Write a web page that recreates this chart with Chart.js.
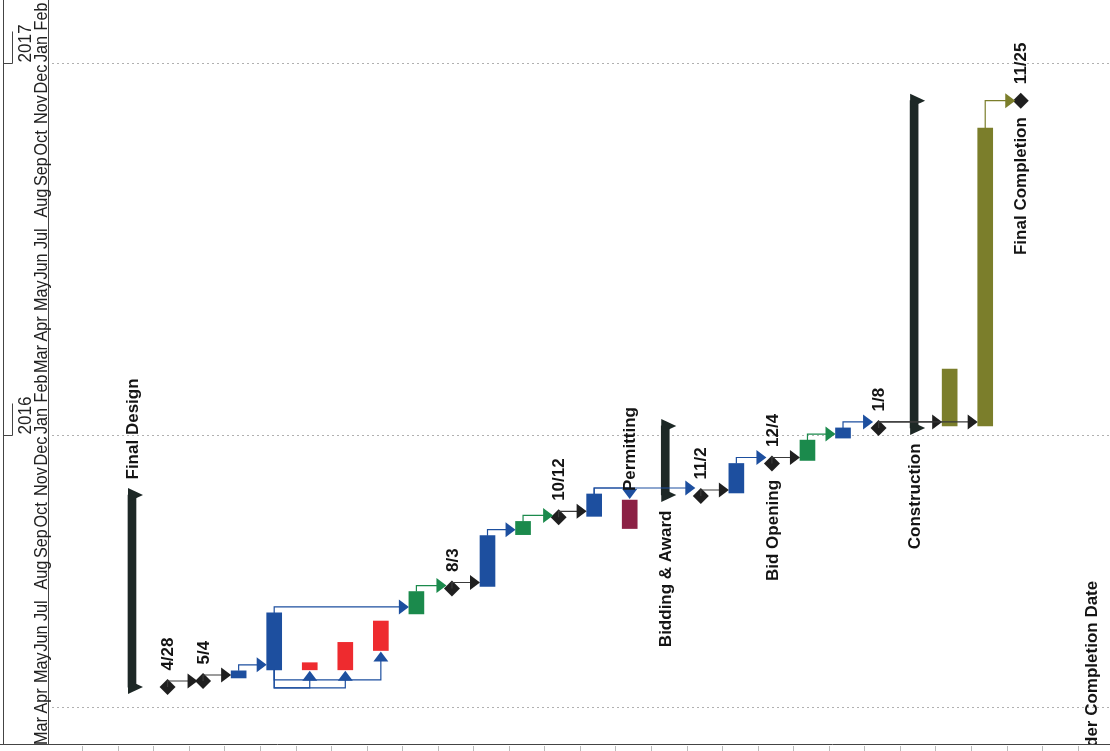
<!DOCTYPE html>
<html>
<head>
<meta charset="utf-8">
<script src="https://cdn.jsdelivr.net/npm/chart.js@4"></script>
<style>
  html, body { margin: 0; background: #fff; }
  canvas { display: block; }
</style>
</head>
<body>
<canvas id="gantt" width="1110" height="751"></canvas>
<script>
// one entry per row of the (rotated) gantt, left to right
const taskType = ['summary', 'milestone', 'milestone', 'blue', 'blue', 'red', 'red', 'red', 'green', 'milestone',
  'blue', 'green', 'milestone', 'blue', 'maroon', 'summary', 'milestone', 'blue', 'milestone', 'green',
  'blue', 'milestone', 'summary', 'olive', 'olive', 'milestone'];
const taskStart = ['2015-04-28', '2015-04-28', '2015-05-04', '2015-05-07', '2015-05-15', '2015-05-15', '2015-05-15', '2015-06-03', '2015-07-09', '2015-08-03',
  '2015-08-05', '2015-09-25', '2015-10-12', '2015-10-13', '2015-10-01', '2015-11-03', '2015-11-02', '2015-11-05', '2015-12-04', '2015-12-07',
  '2015-12-29', '2016-01-08', '2016-01-08', '2016-01-10', '2016-01-10', '2016-11-25'];
const taskEnd = ['2015-11-03', '2015-04-28', '2015-05-04', '2015-05-14', '2015-07-10', '2015-05-22', '2015-06-11', '2015-07-02', '2015-07-31', '2015-08-03',
  '2015-09-24', '2015-10-08', '2015-10-12', '2015-11-04', '2015-10-29', '2016-01-10', '2015-11-02', '2015-12-04', '2015-12-04', '2015-12-27',
  '2016-01-08', '2016-01-08', '2016-11-25', '2016-03-06', '2016-10-29', '2016-11-25'];
const labelAbove = ['Final Design', '4/28', '5/4', '', '', '', '', '', '', '8/3',
  '', '', '10/12', '', 'Permitting', '', '11/2', '', '12/4', '',
  '', '1/8', '', '', '', '11/25'];
const labelBelow = ['', '', '', '', '', '', '', '', '', '',
  '', '', '', '', '', 'Bidding & Award', '', '', 'Bid Opening', '',
  '', '', 'Construction', '', '', 'Final Completion'];
// [from, to, kind]  FS finish-start, SS start-start, FF finish-finish
const links = [[1, 2, 'FS'], [2, 3, 'FS'], [3, 4, 'FS'], [4, 5, 'SS'], [4, 6, 'SS'], [4, 7, 'SS'], [4, 8, 'FS'],
  [8, 9, 'FS'], [9, 10, 'FS'], [10, 11, 'FS'], [11, 12, 'FS'], [12, 13, 'FS'], [13, 14, 'FF'], [13, 16, 'FS'],
  [16, 17, 'FS'], [17, 18, 'FS'], [18, 19, 'FS'], [19, 20, 'FS'], [20, 21, 'FS'], [21, 23, 'FS'], [21, 24, 'FS'], [24, 25, 'FS']];
const dottedDates = ['2015-04-08', '2016-01-01', '2017-01-01'];
const monthLabels = ['Mar', 'Apr', 'May', 'Jun', 'Jul', 'Aug', 'Sep', 'Oct', 'Nov', 'Dec', 'Jan', 'Feb',
  'Mar', 'Apr', 'May', 'Jun', 'Jul', 'Aug', 'Sep', 'Oct', 'Nov', 'Dec', 'Jan', 'Feb'];
const yearLabels = ['2016', '2017'];
const yearStarts = ['2016-01-01', '2017-01-01'];
const cutLabel = 'der Completion Date';
const cutLabelRow = 27;

const colorOf = {
  summary: '#1d2826', milestone: '#1f1f1f', blue: '#1d4f9f', red: '#ee2b2f',
  green: '#1b8a4c', maroon: '#8c2145', olive: '#7b7e2b'
};

const dayOf = s => Math.round((Date.parse(s) - Date.parse('2015-03-01')) / 864e5);

const taskRows = [], summaryRows = [], milestoneRows = [];
taskType.forEach((t, i) => {
  if (t === 'summary') summaryRows.push(i);
  else if (t === 'milestone') milestoneRows.push(i);
  else taskRows.push(i);
});

function halfWidth(i) {
  if (taskType[i] === 'milestone') return 7.5;
  if (taskType[i] === 'summary') return 4;
  return 7.5;
}

function tri(ctx, pts) {
  ctx.beginPath();
  ctx.moveTo(pts[0], pts[1]);
  ctx.lineTo(pts[2], pts[3]);
  ctx.lineTo(pts[4], pts[5]);
  ctx.closePath();
  ctx.fill();
}

function rotText(ctx, text, x, y, align, squeeze) {
  ctx.save();
  ctx.translate(x, y);
  ctx.rotate(-Math.PI / 2);
  if (squeeze) ctx.scale(squeeze, 1);
  ctx.textAlign = align;
  ctx.fillText(text, 0, 0);
  ctx.restore();
}

const ganttDecor = {
  id: 'ganttDecor',
  beforeDatasetsDraw(chart) {
    const ctx = chart.ctx, xs = chart.scales.x, ys = chart.scales.y, a = chart.chartArea;
    ctx.save();
    // dotted date lines
    ctx.strokeStyle = '#b0b0b0';
    ctx.lineWidth = 1;
    ctx.setLineDash([2, 3]);
    dottedDates.forEach(d => {
      const y = Math.round(ys.getPixelForValue(dayOf(d))) + 0.5;
      ctx.beginPath();
      ctx.moveTo(a.left, y);
      ctx.lineTo(a.right, y);
      ctx.stroke();
    });
    ctx.setLineDash([]);

    // timescale strip on the left
    ctx.strokeStyle = '#444';
    ctx.beginPath();
    ctx.moveTo(3.5, 0); ctx.lineTo(3.5, 744);
    ctx.moveTo(48.5, 0); ctx.lineTo(48.5, 744);
    ctx.moveTo(0, 744.5); ctx.lineTo(a.right, 744.5);
    ctx.stroke();

    ctx.fillStyle = '#222';
    ctx.textBaseline = 'alphabetic';
    ctx.font = '18px "Liberation Sans", Arial, sans-serif';
    monthLabels.forEach((m, k) => {
      const d = (Date.UTC(2015, 2 + k, 1) - Date.parse('2015-03-01')) / 864e5;
      rotText(ctx, m, 47, ys.getPixelForValue(d) - 1, 'left', 0.9);
    });
    ctx.font = '18px "Liberation Sans", Arial, sans-serif';
    yearLabels.forEach((t, k) => {
      const y = Math.round(ys.getPixelForValue(dayOf(yearStarts[k]))) + 0.5;
      ctx.beginPath();
      ctx.moveTo(3, y); ctx.lineTo(12.5, y); ctx.lineTo(12.5, y - 32);
      ctx.stroke();
      rotText(ctx, t, 31, y - 1, 'left', 0.95);
    });

    // row ticks under the bottom line
    ctx.strokeStyle = '#bbb';
    ctx.beginPath();
    for (let k = -2; k <= 28; k++) {
      const x = Math.round(xs.getPixelForValue(k - 0.4)) + 0.5;
      if (x < 49) continue;
      ctx.moveTo(x, 746); ctx.lineTo(x, 751);
    }
    ctx.stroke();
    ctx.restore();
  },
  afterDatasetsDraw(chart) {
    const ctx = chart.ctx, xs = chart.scales.x, ys = chart.scales.y, a = chart.chartArea;
    const X = i => xs.getPixelForValue(i);
    const Y = s => ys.getPixelForValue(dayOf(s));
    ctx.save();

    // summary end caps
    summaryRows.forEach(i => {
      ctx.fillStyle = colorOf.summary;
      const x = X(i), l = x - 4, r = x + 4;
      [Y(taskStart[i]), Y(taskEnd[i])].forEach(y => tri(ctx, [l, y - 7, l, y + 7, r + 7, y]));
    });

    // links
    ctx.lineWidth = 1.2;
    links.forEach(([p, s, kind]) => {
      const col = colorOf[taskType[p]];
      ctx.strokeStyle = taskType[p] === 'milestone' || taskType[p] === 'summary' ? '#3a3a3a' : col;
      ctx.fillStyle = col;
      const xa = X(p), xb = X(s);
      const ya0 = Y(taskStart[p]), ya1 = Y(taskEnd[p]);
      const yb0 = Y(taskStart[s]), yb1 = Y(taskEnd[s]);
      ctx.beginPath();
      if (kind === 'FS') {
        const yA = Math.min(yb0, ya1 - 6);
        const tip = xb - halfWidth(s) + (taskType[s] === 'milestone' ? 2 : 0);
        ctx.moveTo(xa, ya1); ctx.lineTo(xa, yA); ctx.lineTo(tip - 9, yA);
        ctx.stroke();
        tri(ctx, [tip, yA, tip - 10, yA - 7.5, tip - 10, yA + 7.5]);
      } else if (kind === 'SS') {
        const off = taskStart[s] === taskStart[p] ? 18 : 10;
        const yB = ya0 + off, tip = yb0 + 1;
        ctx.moveTo(xa, ya0); ctx.lineTo(xa, yB); ctx.lineTo(xb, yB); ctx.lineTo(xb, tip + 9);
        ctx.stroke();
        tri(ctx, [xb, tip, xb - 7.5, tip + 10, xb + 7.5, tip + 10]);
      } else {
        const yA = ya1 - 6, tip = yb1 - 1;
        ctx.moveTo(xa, ya1); ctx.lineTo(xa, yA); ctx.lineTo(xb, yA); ctx.lineTo(xb, tip - 9);
        ctx.stroke();
        tri(ctx, [xb, tip, xb - 7.5, tip - 10, xb + 7.5, tip - 10]);
      }
    });

    // text labels
    ctx.fillStyle = '#141414';
    ctx.font = 'bold 17px "Liberation Sans", Arial, sans-serif';
    ctx.textBaseline = 'middle';
    const pad = i => taskType[i] === 'milestone' ? 7.5 : taskType[i] === 'summary' ? 6.5 : 0;
    taskType.forEach((t, i) => {
      if (labelAbove[i]) rotText(ctx, labelAbove[i], X(i) + 1, Y(taskEnd[i]) - pad(i) - 9, 'left');
      if (labelBelow[i]) rotText(ctx, labelBelow[i], X(i) + 1, Y(taskStart[i]) + pad(i) + 9, 'right');
    });
    ctx.beginPath();
    ctx.rect(a.left, a.top, a.right - a.left, a.bottom - a.top + 1);
    ctx.clip();
    rotText(ctx, cutLabel, X(cutLabelRow), a.bottom + 4, 'left');
    ctx.restore();
  }
};

new Chart(document.getElementById('gantt'), {
  type: 'bar',
  data: {
    datasets: [
      {
        label: 'Tasks',
        data: taskRows.map(i => ({ x: i, y: [dayOf(taskStart[i]), dayOf(taskEnd[i])] })),
        backgroundColor: taskRows.map(i => colorOf[taskType[i]]),
        barThickness: 15,
        grouped: false,
        borderSkipped: false
      },
      {
        label: 'Summary',
        data: summaryRows.map(i => ({ x: i, y: [dayOf(taskStart[i]), dayOf(taskEnd[i])] })),
        backgroundColor: colorOf.summary,
        barThickness: 8,
        grouped: false
      },
      {
        type: 'scatter',
        label: 'Milestones',
        data: milestoneRows.map(i => ({ x: i, y: dayOf(taskStart[i]) })),
        pointStyle: 'rectRot',
        pointRadius: 8,
        backgroundColor: colorOf.milestone,
        borderWidth: 0,
        clip: false
      }
    ]
  },
  options: {
    responsive: false,
    animation: false,
    devicePixelRatio: 1,
    layout: { autoPadding: false, padding: { left: 52, right: 0, top: 0, bottom: 8 } },
    plugins: { legend: { display: false }, tooltip: { enabled: false } },
    scales: {
      x: { type: 'linear', min: -2.25, max: 27.51, offset: false, display: false },
      y: { type: 'linear', min: 3, max: 734, display: false }
    }
  },
  plugins: [ganttDecor]
});
</script>
</body>
</html>
